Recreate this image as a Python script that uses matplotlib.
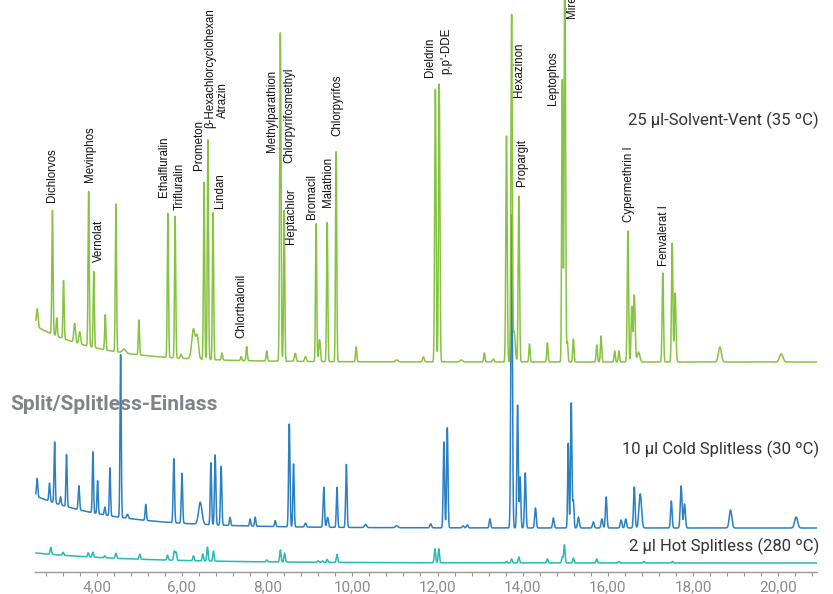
import numpy as np
import matplotlib
matplotlib.use("Agg")
import matplotlib.pyplot as plt
from matplotlib.ticker import MultipleLocator, FuncFormatter

# ---------------- data (retention time in min, peak height in signal units) ----------------
green_times = [2.60, 2.96, 3.06, 3.22, 3.48, 3.60, 3.81, 3.93, 4.20, 4.45, 4.64, 4.99, 5.67, 5.84, 5.98,
               6.27, 6.36, 6.52, 6.61, 6.73, 6.94, 7.39, 7.52, 7.99, 8.31, 8.40, 8.66, 8.90, 9.15, 9.23,
               9.41, 9.62, 10.09, 11.04, 11.67, 11.95, 12.04, 12.56, 13.10, 13.31, 13.62, 13.74, 13.80,
               13.91, 14.16, 14.58, 14.93, 14.99, 15.05, 15.19, 15.74, 15.84, 16.16, 16.26, 16.47, 16.56,
               16.62, 16.72, 17.29, 17.51, 17.58, 18.63, 20.07]
green_heights = [18, 124, 18, 58, 19, 12, 155, 76, 35, 148, 4, 35, 144, 142, 4,
                 30, 22, 177, 220, 147, 7, 4, 14, 10, 329, 151, 8, 5, 138, 22,
                 139, 210, 15, 2, 5, 273, 278, 2, 9, 3, 226, 346, 30,
                 166, 18, 19, 282, 420, 20, 23, 17, 26, 11, 11, 131, 55,
                 67, 10, 89, 119, 69, 15, 8]
green_sigmas = [0.02, 0.014, 0.014, 0.014, 0.02, 0.02, 0.014, 0.014, 0.014, 0.014, 0.04, 0.014, 0.014, 0.014, 0.02,
                0.04, 0.03, 0.014, 0.014, 0.014, 0.015, 0.015, 0.015, 0.015, 0.016, 0.014, 0.02, 0.02, 0.014, 0.02,
                0.014, 0.014, 0.015, 0.03, 0.02, 0.016, 0.016, 0.03, 0.015, 0.02, 0.016, 0.016, 0.025,
                0.016, 0.015, 0.015, 0.014, 0.016, 0.014, 0.015, 0.015, 0.015, 0.015, 0.015, 0.016, 0.016,
                0.02, 0.03, 0.016, 0.016, 0.018, 0.035, 0.04]

blue_times = [2.60, 2.89, 3.01, 3.15, 3.29, 3.58, 3.91, 4.02, 4.19, 4.31, 4.56, 4.72, 5.15, 5.81, 6.00,
              6.43, 6.68, 6.78, 6.92, 7.13, 7.60, 7.72, 8.19, 8.52, 8.62, 8.90, 9.33, 9.42, 9.64, 9.86,
              10.31, 11.04, 11.84, 12.15, 12.23, 12.60, 12.70, 13.23, 13.74, 13.88, 13.94, 14.06, 14.30,
              14.72, 15.07, 15.14, 15.19, 15.31, 15.66, 15.86, 15.96, 16.31, 16.42, 16.62, 16.76, 17.49,
              17.72, 17.80, 18.88, 20.42]
blue_heights = [18, 18, 61, 8, 52, 24, 61, 33, 8, 48, 163, 4, 16, 64, 50,
                22, 62, 70, 59, 8, 7, 9, 6, 103, 63, 4, 40, 10, 40, 63,
                3, 2, 4, 86, 100, 2, 3, 9, 313, 123, 51, 55, 20,
                10, 85, 125, 27, 11, 6, 9, 31, 8, 9, 41, 34, 27,
                42, 24, 18, 11]
blue_sigmas = [0.015, 0.015, 0.014, 0.015, 0.014, 0.016, 0.014, 0.014, 0.015, 0.014, 0.014, 0.02, 0.015, 0.016, 0.016,
               0.04, 0.015, 0.016, 0.016, 0.015, 0.015, 0.015, 0.015, 0.016, 0.015, 0.02, 0.017, 0.02, 0.015, 0.016,
               0.025, 0.03, 0.02, 0.016, 0.016, 0.02, 0.02, 0.017, 0.018, 0.016, 0.016, 0.017, 0.018,
               0.018, 0.014, 0.016, 0.015, 0.02, 0.02, 0.02, 0.018, 0.02, 0.02, 0.018, 0.03, 0.018,
               0.02, 0.02, 0.03, 0.035]

teal_times = [2.92, 3.21, 3.80, 3.91, 4.19, 4.45, 5.01, 5.66, 5.82, 5.86, 6.27, 6.49, 6.60, 6.74, 7.99,
              8.31, 8.41, 9.20, 9.30, 9.41, 9.64, 11.94, 12.03, 13.62, 13.74, 13.91, 14.58, 14.93, 14.98,
              15.19, 15.74, 16.26, 16.85, 17.52]
teal_heights = [7, 3, 4, 5, 2, 5, 5, 5, 9, 8, 5, 7, 14, 10, 2,
                12, 9, 1.5, 1.5, 3, 8, 14, 14, 1.5, 4, 6, 4, 6, 18,
                5, 4, 1.5, 1.5, 1.5]
teal_sigma = 0.016

# baseline drift (solvent tail) per trace: amplitude, decay constant (min)
green_tail = (36, 1.5)
blue_tail = (32, 1.8)
teal_tail = (10, 2.5)

trace_labels = ["25 µl-Solvent-Vent (35 ºC)", "10 µl Cold Splitless (30 ºC)", "2 µl Hot Splitless (280 ºC)"]
section_label = "Split/Splitless-Einlass"

compound_names = ["Dichlorvos", "Mevinphos", "Vernolat", "Ethalfluralin", "Trifluralin", "Prometon",
                  "β-Hexachlorcyclohexan", "Atrazin", "Lindan", "Chlorthalonil", "Methylparathion",
                  "Chlorpyrifosmethyl", "Heptachlor", "Bromacil", "Malathion", "Chlorpyrifos", "Dieldrin",
                  "p,p'-DDE", "Hexazinon", "Propargit", "Leptophos", "Mirex", "Cypermethrin I", "Fenvalerat I"]
compound_label_x = [2.96, 3.84, 4.05, 5.58, 5.94, 6.41, 6.66, 6.96, 6.89, 7.40, 8.12, 8.52, 8.56, 9.06,
                    9.43, 9.65, 11.82, 12.20, 13.91, 13.99, 14.72, 15.15, 16.49, 17.31]
compound_label_y = [370, 390, 310, 375, 362, 402, 444, 454, 364, 234, 420, 409, 328, 353,
                    365, 436, 495, 498, 475, 386, 467, 554, 350, 306]

# ---------------- layout ----------------
X_MIN, X_MAX = 2.55, 20.91
Y_TOP = 572
green_offset, blue_offset, teal_offset = 210, 44, 9

t = np.linspace(X_MIN + 0.02, X_MAX, 9000)


def trace(times, heights, sigmas, tail, offset):
    y = np.full_like(t, float(offset))
    amp, tau = tail
    y += amp * np.exp(-(t - t[0]) / tau)
    if np.isscalar(sigmas):
        sigmas = [sigmas] * len(times)
    for tc, h, s in zip(times, heights, sigmas):
        y += h * np.exp(-0.5 * ((t - tc) / s) ** 2)
    return y


fig = plt.figure(figsize=(8.33, 5.94), dpi=100)
ax = fig.add_axes([35 / 833, 22 / 594, (817 - 35) / 833, 572 / 594])
ax.set_xlim(X_MIN, X_MAX)
ax.set_ylim(0, Y_TOP)

c_green = "#86c340"
c_blue = "#2b7fc3"
c_teal = "#25bab2"

ax.plot(t, trace(teal_times, teal_heights, teal_sigma, teal_tail, teal_offset), color=c_teal, lw=1.1, zorder=3)
ax.plot(t, trace(blue_times, blue_heights, blue_sigmas, blue_tail, blue_offset), color=c_blue, lw=1.1, zorder=4)
ax.plot(t, trace(green_times, green_heights, green_sigmas, green_tail, green_offset), color=c_green, lw=1.1, zorder=5)

for name, lx, ly in zip(compound_names, compound_label_x, compound_label_y):
    ax.text(lx, ly, name, rotation=90, ha="center", va="bottom", fontsize=8.3,
            family=["Liberation Sans", "DejaVu Sans"], color="#111111", zorder=6, clip_on=False)

# axes styling
for s in ["left", "right", "top"]:
    ax.spines[s].set_visible(False)
ax.spines["bottom"].set_color("#9a9a9a")
ax.spines["bottom"].set_linewidth(1.0)
ax.set_yticks([])
ax.xaxis.set_major_locator(MultipleLocator(2))
ax.xaxis.set_minor_locator(MultipleLocator(0.4))
ax.xaxis.set_major_formatter(FuncFormatter(lambda v, p: f"{v:.2f}".replace(".", ",")))
ax.tick_params(axis="x", which="both", length=3, width=0.8, color="#9a9a9a", direction="out")
ax.tick_params(axis="x", which="major", labelsize=11, labelcolor="#8c8c8c", pad=3)
for lab in ax.get_xticklabels():
    lab.set_family(["Roboto", "DejaVu Sans"])
ax.set_facecolor("none")

# trace labels
label_fam = ["Roboto", "DejaVu Sans"]
fig.text(819 / 833, 1 - 120 / 594, trace_labels[0], ha="right", va="center", fontsize=12,
         family=label_fam, color="#333333")
fig.text(819 / 833, 1 - 449 / 594, trace_labels[1], ha="right", va="center", fontsize=12,
         family=label_fam, color="#333333")
fig.text(819 / 833, 1 - 546 / 594, trace_labels[2], ha="right", va="center", fontsize=12,
         family=label_fam, color="#333333")
fig.text(10 / 833, 1 - 404 / 594, section_label, ha="left", va="center", fontsize=15,
         family=label_fam, fontweight="bold", color="#808488", zorder=1)

fig.savefig("out.png", dpi=100)
